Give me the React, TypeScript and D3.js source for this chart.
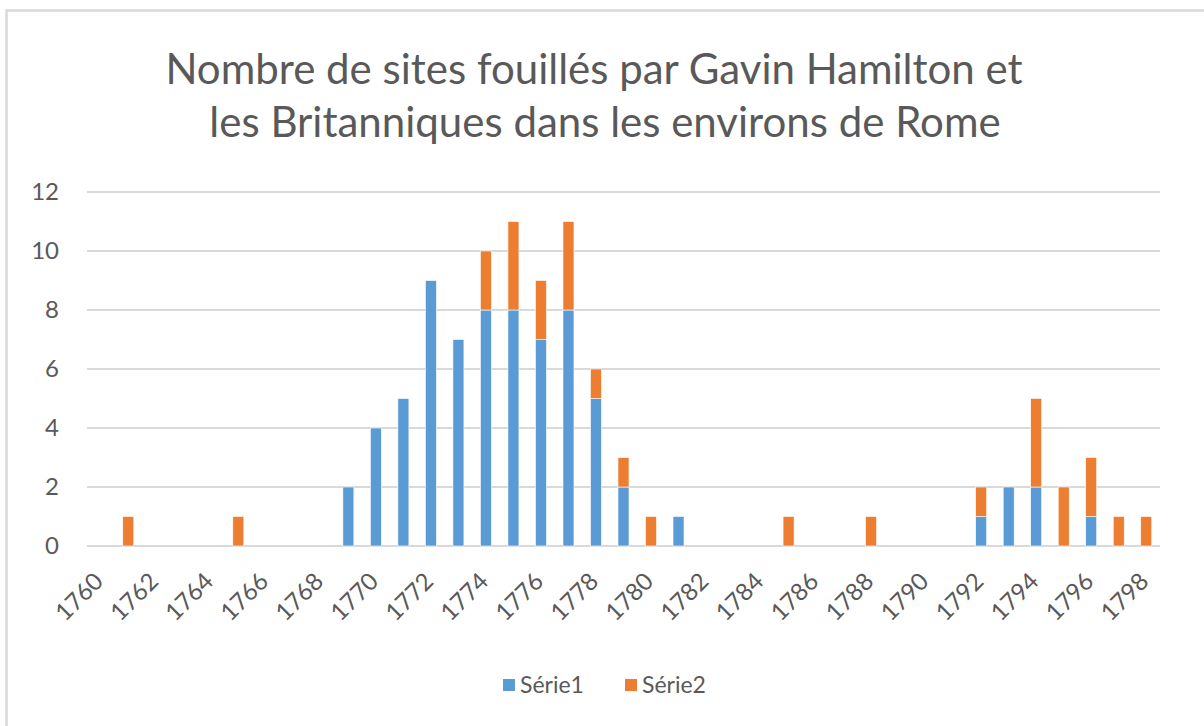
import React, { useEffect, useRef } from "react";
import * as d3 from "d3";

const years = d3.range(1760, 1799).map(String);
// Série1 values per year 1760..1798
const serie1 = [
  0, 0, 0, 0, 0, 0, 0, 0, 0, 2,
  4, 5, 9, 7, 8, 8, 7, 8, 5, 2,
  0, 1, 0, 0, 0, 0, 0, 0, 0, 0,
  0, 0, 1, 2, 2, 0, 1, 0, 0,
];
// Série2 values per year 1760..1798
const serie2 = [
  0, 1, 0, 0, 0, 1, 0, 0, 0, 0,
  0, 0, 0, 0, 2, 3, 2, 3, 1, 1,
  1, 0, 0, 0, 0, 1, 0, 0, 1, 0,
  0, 0, 1, 0, 3, 2, 2, 1, 1,
];
const yTicks = [0, 2, 4, 6, 8, 10, 12];
const seriesNames = ["Série1", "Série2"];
const colors = ["#5b9bd5", "#ed7d31"];
const titleLines = [
  "Nombre de sites fouillés par Gavin Hamilton et",
  "les Britanniques dans les environs de Rome",
];

const W = 1204;
const H = 726;
const M = { left: 87, right: 44, top: 192, bottom: 180 };
const FONT = "Lato, 'Open Sans', sans-serif";
const TEXT = "#595959";

const App = () => {
  const svgRef = useRef<SVGSVGElement>(null);

  useEffect(() => {
    const svg = d3.select(svgRef.current);
    svg.selectAll("*").remove();

    const rows = years.map((y, i) => ({ year: y, s1: serie1[i], s2: serie2[i] }));
    const stack = d3.stack<any>().keys(["s1", "s2"])(rows);

    const x = d3
      .scaleBand()
      .domain(years)
      .range([M.left, W - M.right])
      .paddingInner(0.6)
      .paddingOuter(0.3);
    const y = d3
      .scaleLinear()
      .domain([0, 12])
      .range([H - M.bottom, M.top]);

    // frame (only top and left edges show)
    svg
      .append("rect")
      .attr("x", 6.5)
      .attr("y", 10.5)
      .attr("width", W + 10)
      .attr("height", H + 10)
      .attr("fill", "#fff")
      .attr("stroke", "#d9d9d9")
      .attr("stroke-width", 2.5);

    // title
    svg
      .append("g")
      .selectAll("text")
      .data(titleLines)
      .join("text")
      .attr("x", (d, i) => (i === 0 ? 594 : 605))
      .attr("y", (d, i) => 84 + i * 53)
      .attr("text-anchor", "middle")
      .attr("font-family", FONT)
      .attr("font-size", 42)
      .attr("fill", TEXT)
      .text((d) => d);

    // grid
    svg
      .append("g")
      .selectAll("line")
      .data(yTicks)
      .join("line")
      .attr("x1", M.left)
      .attr("x2", W - M.right)
      .attr("y1", (d) => y(d))
      .attr("y2", (d) => y(d))
      .attr("stroke", "#d9d9d9")
      .attr("stroke-width", 2);

    // y labels
    svg
      .append("g")
      .selectAll("text")
      .data(yTicks)
      .join("text")
      .attr("x", 59)
      .attr("y", (d) => y(d))
      .attr("dy", "0.35em")
      .attr("text-anchor", "end")
      .attr("font-family", FONT)
      .attr("font-size", 24)
      .attr("fill", TEXT)
      .text((d) => d);

    // bars
    svg
      .append("g")
      .selectAll("g")
      .data(stack)
      .join("g")
      .attr("fill", (d, i) => colors[i])
      .selectAll("rect")
      .data((d) => d.filter((p) => p[1] - p[0] > 0))
      .join("rect")
      .attr("x", (d: any) => x(d.data.year)!)
      .attr("width", x.bandwidth())
      .attr("y", (d) => y(d[1]))
      .attr("height", (d) => y(d[0]) - y(d[1]))
      .attr("stroke", "#fff")
      .attr("stroke-width", 0.6);

    // x labels
    svg
      .append("g")
      .selectAll("text")
      .data(years.filter((d, i) => i % 2 === 0))
      .join("text")
      .attr("transform", (d) => {
        const cx = x(d)! + x.bandwidth() / 2;
        return `translate(${cx - 2},${y(0) + 31}) rotate(-45)`;
      })
      .attr("dy", "0.35em")
      .attr("text-anchor", "end")
      .attr("font-family", FONT)
      .attr("font-size", 24)
      .attr("fill", TEXT)
      .text((d) => d);

    // legend
    const legend = svg
      .append("g")
      .selectAll("g")
      .data(seriesNames)
      .join("g")
      .attr("transform", (d, i) => `translate(${503 + i * 122},685)`);
    legend
      .append("rect")
      .attr("x", 0)
      .attr("y", -6)
      .attr("width", 12)
      .attr("height", 12)
      .attr("fill", (d, i) => colors[i]);
    legend
      .append("text")
      .attr("x", 17)
      .attr("dy", "0.35em")
      .attr("font-family", FONT)
      .attr("font-size", 23)
      .attr("fill", TEXT)
      .text((d) => d);
  }, []);

  return (
    <svg
      ref={svgRef}
      width={W}
      height={H}
      style={{ position: "absolute", left: 0, top: 0, background: "#fff" }}
    ></svg>
  );
};

export default App;
